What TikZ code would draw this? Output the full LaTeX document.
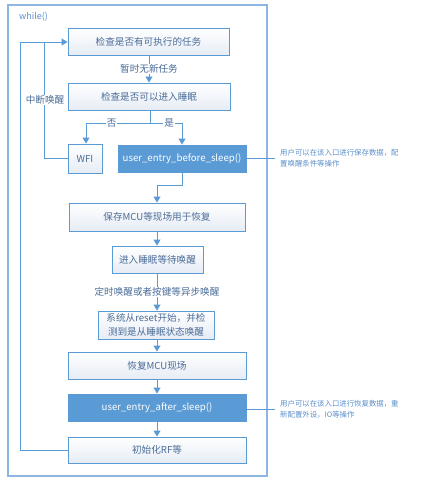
\documentclass[tikz,border=0pt]{standalone}
\usepackage{fontspec}
\setmainfont{Noto Sans CJK SC}
\newfontfamily\cjk{Noto Sans CJK SC}
\usetikzlibrary{arrows.meta,shadows}
\definecolor{lineblue}{HTML}{5B9BD5}
\definecolor{frameblue}{HTML}{8DB6E2}
\definecolor{txtblue}{HTML}{4A6C98}
\definecolor{annblue}{HTML}{5B8FCB}
\definecolor{boxbot}{HTML}{E6ECF5}
\tikzset{
  plainbox/.style={draw=lineblue, line width=0.9pt, top color=white, bottom color=boxbot,
    text=txtblue, font=\cjk\fontsize{9.6}{15}\selectfont, align=center, inner sep=0pt},
  userbox/.style={draw=lineblue, line width=0.9pt, fill=lineblue, text=white,
    font=\cjk\fontsize{9.6}{12}\selectfont, inner sep=0pt,
    drop shadow={shadow xshift=1pt, shadow yshift=-1.2pt, opacity=0.25}},
  flow/.style={draw=lineblue, line width=0.9pt, -{Triangle[width=7pt,length=6pt]}},
  link/.style={draw=lineblue, line width=0.9pt},
  lbl/.style={fill=white, text=txtblue, font=\cjk\fontsize{9.6}{12}\selectfont, inner sep=1pt},
  ann/.style={text=annblue, font=\cjk\fontsize{7.4}{11}\selectfont, align=left, anchor=west, inner sep=0pt},
}
\begin{document}
\begin{tikzpicture}[x=1pt,y=-1pt]
\useasboundingbox (0,0) rectangle (422,484);
% outer frame
\draw[frameblue, line width=1.3pt] (8,5) rectangle (267,476);
\node[anchor=west, text=annblue, font=\cjk\fontsize{9}{11}\selectfont, inner sep=0pt] (wh) at (19,17) {while()};

\node[plainbox, minimum width=161pt, minimum height=27pt] (b1) at (148.5,41.5) {检查是否有可执行的任务};
\node[plainbox, minimum width=162pt, minimum height=27pt] (b2) at (149,96.5) {检查是否可以进入睡眠};
\node[plainbox, minimum width=34pt, minimum height=29pt] (wfi) at (85,158.5) {WFI};
\node[userbox, minimum width=128pt, minimum height=27pt] (ueb) at (182,158.5) {user\_entry\_before\_sleep()};
\node[plainbox, minimum width=176pt, minimum height=28pt] (b3) at (157,217) {保存MCU等现场用于恢复};
\node[plainbox, minimum width=91pt, minimum height=27pt] (b4) at (157.5,259.5) {进入睡眠等待唤醒};
\node[plainbox, minimum width=116pt, minimum height=28pt] (b5) at (156,325) {系统从reset开始，并检\\[-1pt]测到是从睡眠状态唤醒};
\node[plainbox, minimum width=178pt, minimum height=27pt] (b6) at (157,365.5) {恢复MCU现场};
\node[userbox, minimum width=178pt, minimum height=27pt] (uea) at (157,407.5) {user\_entry\_after\_sleep()};
\node[plainbox, minimum width=178pt, minimum height=26pt] (b8) at (157,450) {初始化RF等};

% main flow
\draw[flow] (b1.south -| 149,0) -- node[lbl, pos=0.5] (l1) {暂时无新任务} (b2.north -| 149,0);
\coordinate (split) at (150,123);
\draw[flow] (b2.south -| split) -- (split) -- node[lbl, pos=0.6] (lno) {否} (86,123) -- (wfi.north -| 86,0);
\draw[flow] (split) -- node[lbl, pos=0.6] (lyes) {是} (182,123) -- (ueb.north);
\draw[flow] (ueb.south) -- (182,185) -- (157,185) -- (b3.north -| 157,0);
\draw[flow] (b3.south -| 157,0) -- (b4.north -| 157,0);
\draw[flow] (b4.south -| 157,0) -- node[lbl, pos=0.5] (l2) {定时唤醒或者按键等异步唤醒} (b5.north -| 157,0);
\draw[flow] (b5.south -| 157,0) -- (b6.north);
\draw[flow] (b6.south) -- (uea.north);
\draw[flow] (uea.south) -- (b8.north);

% loops back
\draw[flow] (b8.west) -- (20,450) -- (20,42) -- (b1.west |- 0,42);
\draw[link] (wfi.west) -- (44,158.5) -- (44,42);
\node[lbl] (lint) at (45,100) {中断唤醒};

% annotations
\coordinate (a1) at (275,158);
\coordinate (a2) at (275,409);
\draw[link] (ueb.east |- a1) -- (a1);
\draw[link] (uea.east |- a2) -- (a2);
\node[ann] (t1) at (280,158) {用户可以在该入口进行保存数据，配\\置唤醒条件等操作};
\node[ann] (t2) at (280,409) {用户可以在该入口进行恢复数据，重\\新配置外设，IO等操作};
\end{tikzpicture}
\end{document}
